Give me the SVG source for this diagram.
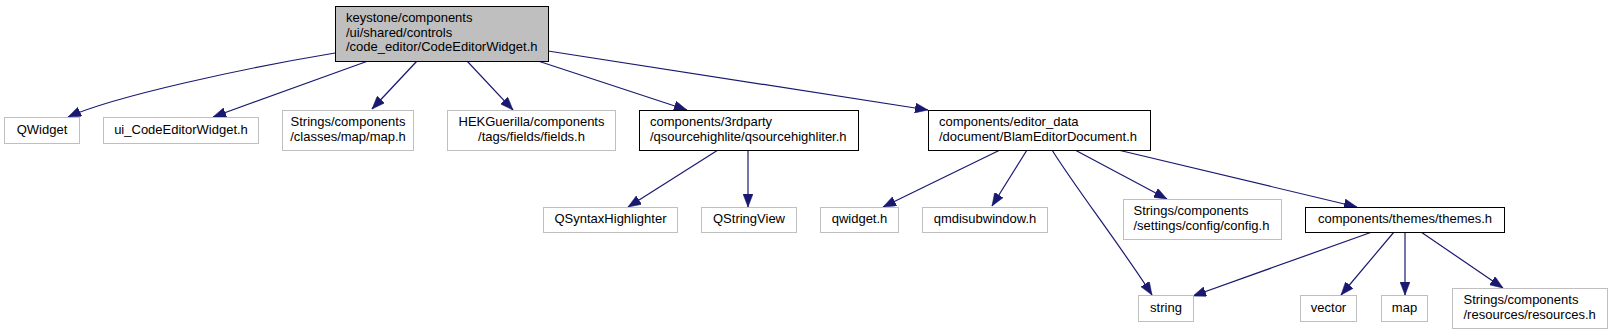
<svg xmlns="http://www.w3.org/2000/svg" width="1613" height="335" viewBox="0 0 1613 335">
<style>
  .bg{fill:#ffffff}
  .n rect{fill:#ffffff;stroke:#bfbfbf;stroke-width:1}
  .b rect{fill:#ffffff;stroke:#000000;stroke-width:1}
  .r rect{fill:#bfbfbf;stroke:#000000;stroke-width:1}
  text{font-family:"Liberation Sans",Arial,sans-serif;font-size:13px;fill:#000000}
  .c{text-anchor:middle}
  .e path{fill:none;stroke:#191970;stroke-width:1.2;marker-end:url(#ah)}
</style>
<defs>
  <marker id="ah" viewBox="0 0 13 10" refX="13" refY="5" markerWidth="13" markerHeight="10" markerUnits="userSpaceOnUse" orient="auto">
    <path d="M0,0 L13,5 L0,10 Z" fill="#191970" stroke="#191970" stroke-width="0.5"/>
  </marker>
</defs>
<rect class="bg" x="0" y="0" width="1613" height="335"/>
<g id="edges" class="e">
  <path d="M335,53 C245,68 115,96 68,117"/>
  <path d="M368,61 L213,117"/>
  <path d="M417,61 L372,109"/>
  <path d="M467,61 L513,110"/>
  <path d="M538,61 L687,110"/>
  <path d="M548,51 L928,110"/>
  <path d="M718,150 L628,207"/>
  <path d="M748,150 L748,207"/>
  <path d="M1000,150 L883,207"/>
  <path d="M1027,150 L992,206"/>
  <path d="M1052,150 C1075,187 1125,252 1152,295"/>
  <path d="M1075,150 L1167,199"/>
  <path d="M1118,150 L1357,207"/>
  <path d="M1372,232 L1193,296"/>
  <path d="M1394,232 L1341,295"/>
  <path d="M1405,232 L1405,295"/>
  <path d="M1421,232 L1503,288"/>
</g>
<g id="root" class="r">
  <rect x="335.5" y="6.5" width="213" height="55"/>
  <text x="346" y="21.5">keystone/components</text>
  <text x="346" y="36.5">/ui/shared/controls</text>
  <text x="346" y="51">/code_editor/CodeEditorWidget.h</text>
</g>
<g id="qwidget_cls" class="n">
  <rect x="4.5" y="117.5" width="75" height="26"/>
  <text class="c" x="42" y="134">QWidget</text>
</g>
<g id="ui_codeeditor" class="n">
  <rect x="103.5" y="117.5" width="155" height="26"/>
  <text class="c" x="181" y="134">ui_CodeEditorWidget.h</text>
</g>
<g id="map_h" class="n">
  <rect x="282.5" y="110.5" width="131" height="40"/>
  <text class="c" x="348" y="126">Strings/components</text>
  <text class="c" x="348" y="141">/classes/map/map.h</text>
</g>
<g id="fields_h" class="n">
  <rect x="447.5" y="110.5" width="168" height="40"/>
  <text class="c" x="531.5" y="126">HEKGuerilla/components</text>
  <text class="c" x="531.5" y="141">/tags/fields/fields.h</text>
</g>
<g id="qsourcehighliter" class="b">
  <rect x="639.5" y="110.5" width="219" height="40"/>
  <text x="650" y="126">components/3rdparty</text>
  <text x="650" y="141">/qsourcehighlite/qsourcehighliter.h</text>
</g>
<g id="blameditordocument" class="b">
  <rect x="928.5" y="110.5" width="222" height="40"/>
  <text x="939" y="126">components/editor_data</text>
  <text x="939" y="141">/document/BlamEditorDocument.h</text>
</g>
<g id="qsyntaxhighlighter" class="n">
  <rect x="543.5" y="207.5" width="134" height="25"/>
  <text class="c" x="610.5" y="223">QSyntaxHighlighter</text>
</g>
<g id="qstringview" class="n">
  <rect x="701.5" y="207.5" width="95" height="25"/>
  <text class="c" x="749" y="223">QStringView</text>
</g>
<g id="qwidget_h" class="n">
  <rect x="820.5" y="207.5" width="78" height="25"/>
  <text class="c" x="859.5" y="223">qwidget.h</text>
</g>
<g id="qmdisubwindow" class="n">
  <rect x="922.5" y="207.5" width="125" height="25"/>
  <text class="c" x="985" y="223">qmdisubwindow.h</text>
</g>
<g id="config_h" class="n">
  <rect x="1123.5" y="199.5" width="158" height="40"/>
  <text x="1133.5" y="215">Strings/components</text>
  <text x="1133.5" y="230">/settings/config/config.h</text>
</g>
<g id="themes_h" class="b">
  <rect x="1305.5" y="207.5" width="199" height="25"/>
  <text class="c" x="1405" y="223">components/themes/themes.h</text>
</g>
<g id="string" class="n">
  <rect x="1138.5" y="295.5" width="55" height="26"/>
  <text class="c" x="1166" y="312">string</text>
</g>
<g id="vector" class="n">
  <rect x="1300.5" y="295.5" width="56" height="26"/>
  <text class="c" x="1328.5" y="312">vector</text>
</g>
<g id="map" class="n">
  <rect x="1381.5" y="295.5" width="46" height="26"/>
  <text class="c" x="1404.5" y="312">map</text>
</g>
<g id="resources_h" class="n">
  <rect x="1452.5" y="288.5" width="155" height="40"/>
  <text x="1463.5" y="304">Strings/components</text>
  <text x="1463.5" y="319">/resources/resources.h</text>
</g>
</svg>
